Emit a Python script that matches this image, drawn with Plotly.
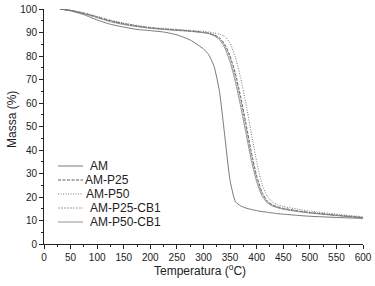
import plotly.graph_objects as go

temp = [30, 50, 75, 100, 125, 150, 175, 200, 225, 250, 275, 300, 310, 320, 330, 340,
        350, 360, 370, 380, 390, 400, 410, 420, 430, 440, 450, 475, 500, 550, 600]

am = [100, 99.2, 97.6, 95.3, 93.5, 92.3, 91.3, 90.8, 90.2, 89.0, 86.8, 83.0, 80.5, 75.5,
      65, 46, 27, 18, 16.2, 15.3, 14.7, 14.2, 13.8, 13.5, 13.2, 12.9, 12.7, 12.2, 11.8, 11.3, 10.9]
am_p25 = [100, 99.4, 98.2, 96.6, 95.0, 93.8, 92.8, 92.0, 91.5, 91.1, 90.7, 90.1, 89.7, 89.0,
          87.8, 85.0, 80.0, 72.5, 62.5, 51.0, 39.0, 29.0, 22.0, 18.3, 16.6, 15.8, 15.2, 14.2, 13.4, 12.3, 11.3]
am_p50 = [100, 99.5, 98.4, 96.9, 95.3, 94.0, 93.0, 92.2, 91.7, 91.3, 90.9, 90.5, 90.2, 89.8,
          89.3, 88.3, 85.5, 79.5, 70.5, 59.5, 47.0, 35.0, 25.5, 20.3, 17.8, 16.7, 16.0, 14.9, 14.0, 12.7, 11.6]
am_p25_cb1 = [100, 99.4, 98.1, 96.5, 94.8, 93.6, 92.6, 91.9, 91.4, 91.0, 90.6, 90.0, 89.6, 88.8,
              87.4, 84.3, 79.0, 71.0, 61.0, 49.5, 37.5, 28.0, 21.5, 18.0, 16.4, 15.6, 15.0, 14.0, 13.3, 12.2, 11.2]
am_p50_cb1 = [100, 99.4, 98.0, 96.3, 94.6, 93.4, 92.5, 91.8, 91.3, 90.9, 90.5, 89.9, 89.5, 88.6,
              87.0, 83.5, 77.5, 69.0, 58.5, 47.0, 35.5, 26.5, 20.5, 17.5, 16.1, 15.4, 14.8, 13.9, 13.2, 12.1, 11.1]

names = ["AM", "AM-P25", "AM-P50", "AM-P25-CB1", "AM-P50-CB1"]
series = [am, am_p25, am_p50, am_p25_cb1, am_p50_cb1]
styles = [("#555555", "solid"), ("#333333", "3px,1.5px"), ("#555555", "1px,1.5px"),
          ("#888888", "2px,1px"), ("#777777", "solid")]

fig = go.Figure()
for name, vals, (col, dash) in zip(names, series, styles):
    fig.add_trace(go.Scatter(x=temp, y=vals, mode="lines", name=name, showlegend=False,
                             line=dict(color=col, width=0.8, dash=dash, shape="spline", smoothing=0.5)))

# hand-made legend, the plotly one spaces rows too far apart
W, H = 375, 286
L, R, T, B = 44, 12, 9, 42
pw, ph = W - L - R, H - T - B
text_x = [88, 83, 84, 88, 88]
for i, (name, (col, dash)) in enumerate(zip(names, styles)):
    ypx = 166 + i * 14
    yp = 1 - (ypx - T) / ph
    fig.add_shape(type="line", xref="paper", yref="paper",
                  x0=(58 - L) / pw, x1=(83 - L) / pw, y0=yp, y1=yp,
                  line=dict(color=col, width=0.8, dash=dash))
    fig.add_annotation(text=name, xref="paper", yref="paper", x=(text_x[i] - L) / pw, y=yp,
                       xanchor="left", yanchor="middle", showarrow=False,
                       font=dict(size=12, color="#222222"))

# axis titles as annotations so the margins stay put
fig.add_annotation(text="Temperatura (<sup>o</sup>C)", xref="paper", yref="paper",
                   x=(200 - L) / pw, y=-(270 - T - ph) / ph, showarrow=False,
                   xanchor="center", yanchor="middle", font=dict(size=12, color="#222222"))
fig.add_annotation(text="Massa (%)", xref="paper", yref="paper", textangle=-90,
                   x=-(L - 12) / pw, y=1 - (120 - T) / ph, showarrow=False,
                   xanchor="center", yanchor="middle", font=dict(size=12, color="#222222"))

fig.update_layout(
    width=W, height=H,
    margin=dict(l=L, r=R, t=T, b=B, autoexpand=False),
    paper_bgcolor="white", plot_bgcolor="white",
    font=dict(family="Liberation Sans, Arial, sans-serif", color="#222222"),
    xaxis=dict(range=[0, 600], dtick=50, tick0=0, ticks="outside", ticklen=4, tickwidth=1,
               tickcolor="#222", showline=True, linecolor="#222", linewidth=1, showgrid=False,
               zeroline=False, tickfont=dict(size=10), automargin=False,
               minor=dict(dtick=25, ticks="outside", ticklen=2, tickcolor="#222")),
    yaxis=dict(range=[0, 100], dtick=10, tick0=0, ticks="outside", ticklen=4, tickwidth=1,
               tickcolor="#222", showline=True, linecolor="#222", linewidth=1, showgrid=False,
               zeroline=False, tickfont=dict(size=10), automargin=False,
               minor=dict(dtick=5, ticks="outside", ticklen=2, tickcolor="#222")),
)

# the page body has a default 8px margin; drop it so the figure fills the window
fig.write_html("out.html", config={"displayModeBar": False},
               post_script="document.body.style.margin='0';")
